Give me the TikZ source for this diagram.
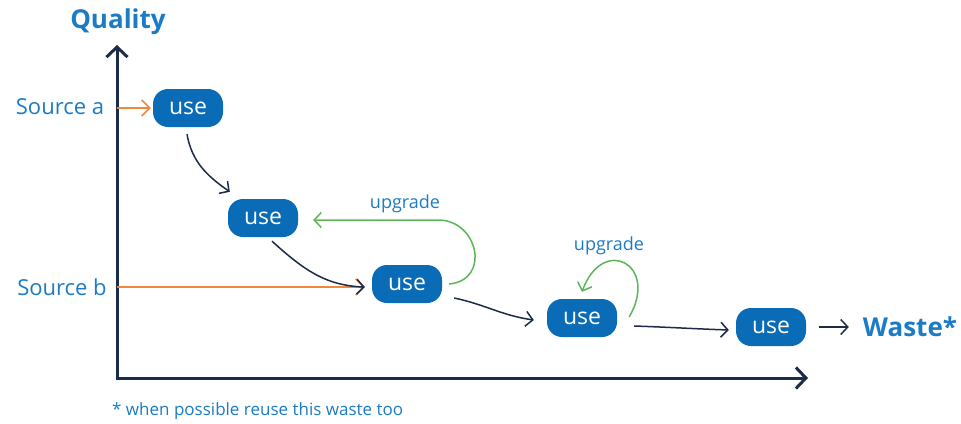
\documentclass[tikz,border=0pt]{standalone}
\usepackage{fontspec}
\setmainfont{Open Sans}
\usetikzlibrary{arrows.meta,positioning,calc}
\definecolor{boxblue}{HTML}{0A6CB6}
\definecolor{txtblue}{HTML}{1B7BC4}
\definecolor{navy}{HTML}{1C2B4A}
\definecolor{orng}{HTML}{F0883C}
\definecolor{grn}{HTML}{5DB55A}

\begin{document}
\begin{tikzpicture}[x=1pt, y=-1pt,
  usebox/.style={rectangle, fill=boxblue, text=white, rounded corners=15pt, minimum width=70pt, minimum height=38pt, inner sep=0pt, font=\fontsize{23}{23}\selectfont},
  lbl/.style={text=txtblue, inner sep=0pt, font=\fontsize{22}{22}\selectfont},
  big/.style={text=txtblue, inner sep=0pt, font=\fontsize{26}{26}\selectfont\bfseries},
  small/.style={text=txtblue, inner sep=0pt, font=\fontsize{18}{18}\selectfont},
  axis/.style={-{Straight Barb[length=10pt,width=21pt]}, line width=3pt, navy},
  flow/.style={-{Straight Barb[length=7pt,width=15pt]}, line width=1.5pt, navy},
  feed/.style={-{Straight Barb[length=8pt,width=16pt]}, line width=1.5pt, orng},
  up/.style={-{Straight Barb[length=7pt,width=15pt]}, line width=1.5pt, grn}
]
  \useasboundingbox (0,0) rectangle (961,423);

  % axes
  \coordinate (origin) at (117,378);
  \coordinate (ytop) at (117,45);
  \coordinate (xend) at (808,378);
  \draw[axis, line cap=rect] (origin) -- (ytop);
  \draw[axis, line cap=rect] (origin) -- (xend);
  \node[big] (qual) at (118,22) {Quality};

  % sources
  \node[lbl] (src-a) at (60,107) {Source a};
  \node[lbl] (src-b) at (62,287) {Source b};

  % uses
  \node[usebox] (use1) at (188,108) {use};
  \node[usebox] (use2) at (263,218) {use};
  \node[usebox] (use3) at (407,284) {use};
  \node[usebox] (use4) at (582,318) {use};
  \node[usebox] (use5) at (771,327) {use};
  \node[big] (waste) at (910,327) {Waste*};

  \draw[feed] (origin |- use1) -- ([xshift=-2pt]use1.west);
  \draw[feed] (origin |- src-b) -- ([xshift=-7pt]use3.west |- src-b);

  \draw[flow] ([shift={(-1pt,-7pt)}]use1.south) to[out=-80,in=145] ([shift={(2pt,7pt)}]use2.north west);
  \draw[flow] ([shift={(9pt,-4pt)}]use2.south) to[out=-42,in=178] ([xshift=-7pt]use3.west |- src-b);
  \draw[flow] ([shift={(12pt,-14pt)}]use3.east) to[out=-12,in=172] ([shift={(-13pt,-2pt)}]use4.west);
  \draw[flow] ([shift={(17pt,-8pt)}]use4.east) to[out=-2,in=178] ([shift={(-7pt,-3pt)}]use5.west);
  \draw[flow] ([xshift=13pt]use5.east) -- ([xshift=-14pt]waste.west);

  % upgrades
  \draw[up] ([xshift=7pt]use3.east) .. controls +(42,-4) and +(40,0) .. ([shift={(140pt,-2pt)}]use2.east) -- ([shift={(15pt,-2pt)}]use2.east);
  \node[small] (upg1) at (405,204) {upgrade};
  \draw[up] ([shift={(12pt,1pt)}]use4.east) to[out=60,in=70,looseness=2.9] ([yshift=7pt]use4.north);
  \node[small] (upg2) at (609,246) {upgrade};

  \node[small, font=\fontsize{17}{17}\selectfont, anchor=west] (note) at (112,411) {* when possible reuse this waste too};
\end{tikzpicture}
\end{document}
